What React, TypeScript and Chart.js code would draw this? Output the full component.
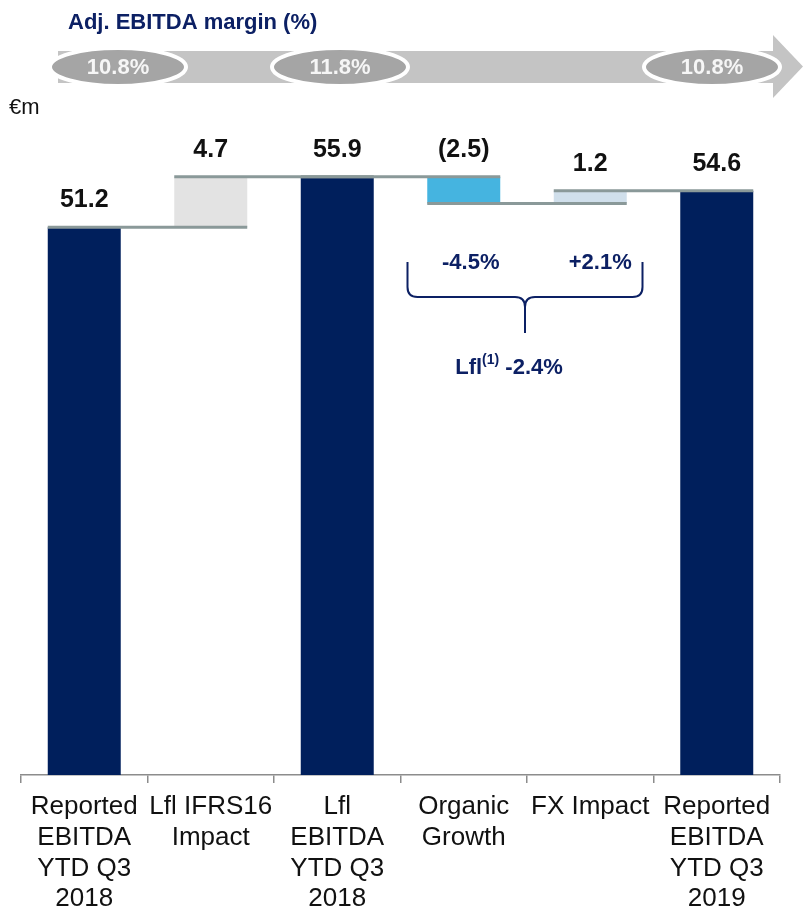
import React, { useEffect, useRef } from "react";
import { Chart, registerables } from "chart.js";

Chart.register(...registerables);

// Bridge categories (multi-line axis labels)
const categories: string[][] = [
  ["Reported", "EBITDA", "YTD Q3", "2018"],
  ["Lfl IFRS16", "Impact"],
  ["Lfl", "EBITDA", "YTD Q3", "2018"],
  ["Organic", "Growth"],
  ["FX Impact"],
  ["Reported", "EBITDA", "YTD Q3", "2019"],
];

// €m: totals are absolute levels, deltas are changes on the running total
const stepValues: number[] = [51.2, 4.7, 55.9, -2.5, 1.2, 54.6];
const stepKinds: ("total" | "delta")[] = ["total", "delta", "total", "delta", "delta", "total"];

// Adj. EBITDA margin shown in the header arrow
const marginLabels: string[] = ["10.8%", "11.8%", "10.8%"];

// Growth rates for the organic / FX steps and the like-for-like total
const growthLabels: string[] = ["-4.5%", "+2.1%"];
const lflGrowth = "-2.4%";

const TEXT_NAVY = "#0c2064";
const CONNECTOR = "#8a9999";
const FONT = "'Liberation Sans', Arial, Helvetica, sans-serif";

const barColors = ["#001f5c", "#e3e3e3", "#001f5c", "#45b4e0", "#d0dfeb", "#001f5c"];

function buildRanges(): [number, number][] {
  const out: [number, number][] = [];
  let running = 0;
  stepValues.forEach((v, i) => {
    if (stepKinds[i] === "total") {
      out.push([0, v]);
      running = v;
    } else {
      const next = +(running + v).toFixed(2);
      out.push([Math.min(running, next), Math.max(running, next)]);
      running = next;
    }
  });
  return out;
}

function formatValue(v: number): string {
  return v < 0 ? `(${Math.abs(v).toFixed(1)})` : v.toFixed(1);
}

const overlayPlugin = {
  id: "bridgeOverlay",
  afterDatasetsDraw(chart: any) {
    const ctx: CanvasRenderingContext2D = chart.ctx;
    const x = chart.scales.x;
    const y = chart.scales.y;
    const meta = chart.getDatasetMeta(0);
    const ranges = buildRanges();

    // running level after each step
    const levels: number[] = [];
    let running = 0;
    stepValues.forEach((v, i) => {
      running = stepKinds[i] === "total" ? v : +(running + v).toFixed(2);
      levels.push(running);
    });

    ctx.save();
    // connector lines between consecutive bars
    ctx.strokeStyle = CONNECTOR;
    ctx.lineWidth = 3;
    for (let i = 0; i < meta.data.length - 1; i++) {
      const a = meta.data[i];
      const b = meta.data[i + 1];
      const py = y.getPixelForValue(levels[i]);
      ctx.beginPath();
      ctx.moveTo(a.x - a.width / 2, py);
      ctx.lineTo(b.x + b.width / 2, py);
      ctx.stroke();
    }

    // value labels above each bar
    ctx.fillStyle = "#111";
    ctx.font = `bold 25px ${FONT}`;
    ctx.textAlign = "center";
    ctx.textBaseline = "middle";
    meta.data.forEach((bar: any, i: number) => {
      const top = y.getPixelForValue(ranges[i][1]);
      ctx.fillText(formatValue(stepValues[i]), bar.x, top - 27);
    });

    // growth annotations with brace
    const catW = x.getPixelForValue(1) - x.getPixelForValue(0);
    const c3 = x.getPixelForValue(3);
    const c4 = x.getPixelForValue(4);
    const L = c3 - catW / 2 + 7;
    const R = c4 + catW / 2 - 11;
    const C = (L + R) / 2;
    const top = 262;
    const H = 297;
    const bottom = 333;
    const r = 10;
    ctx.strokeStyle = TEXT_NAVY;
    ctx.lineWidth = 2;
    ctx.beginPath();
    ctx.moveTo(L, top);
    ctx.lineTo(L, H - r);
    ctx.quadraticCurveTo(L, H, L + r, H);
    ctx.lineTo(C - r, H);
    ctx.quadraticCurveTo(C, H, C, H + r);
    ctx.lineTo(C, bottom);
    ctx.moveTo(R, top);
    ctx.lineTo(R, H - r);
    ctx.quadraticCurveTo(R, H, R - r, H);
    ctx.lineTo(C + r, H);
    ctx.quadraticCurveTo(C, H, C, H + r);
    ctx.stroke();

    ctx.fillStyle = TEXT_NAVY;
    ctx.font = `bold 22px ${FONT}`;
    ctx.fillText(growthLabels[0], c3 + 7, 263);
    ctx.fillText(growthLabels[1], c4 + 10, 263);

    // "Lfl(1) -2.4%" with superscript
    const base = "Lfl";
    const sup = "(1)";
    const rest = " " + lflGrowth;
    ctx.font = `bold 22px ${FONT}`;
    const wBase = ctx.measureText(base).width;
    const wRest = ctx.measureText(rest).width;
    ctx.font = `bold 14px ${FONT}`;
    const wSup = ctx.measureText(sup).width;
    let sx = C - (wBase + wSup + wRest) / 2 - 16;
    ctx.textAlign = "left";
    ctx.font = `bold 22px ${FONT}`;
    ctx.fillText(base, sx, 368);
    sx += wBase;
    ctx.font = `bold 14px ${FONT}`;
    ctx.fillText(sup, sx, 360);
    sx += wSup;
    ctx.font = `bold 22px ${FONT}`;
    ctx.fillText(rest, sx, 368);

    // header: margin arrow
    ctx.fillStyle = "#c4c4c4";
    ctx.fillRect(58, 51, 773 - 58, 32);
    ctx.beginPath();
    ctx.moveTo(773, 35);
    ctx.lineTo(803, 66.5);
    ctx.lineTo(773, 98);
    ctx.closePath();
    ctx.fill();

    const centers = [118, 340, 712];
    centers.forEach((cx, i) => {
      ctx.beginPath();
      ctx.ellipse(cx, 67, 68, 19, 0, 0, Math.PI * 2);
      ctx.fillStyle = "#a5a5a5";
      ctx.fill();
      ctx.strokeStyle = "#ffffff";
      ctx.lineWidth = 4;
      ctx.stroke();
      ctx.fillStyle = "#f6f6f6";
      ctx.font = `bold 22px ${FONT}`;
      ctx.textAlign = "center";
      ctx.textBaseline = "middle";
      ctx.fillText(marginLabels[i], cx, 68);
    });

    ctx.fillStyle = TEXT_NAVY;
    ctx.font = `bold 22px ${FONT}`;
    ctx.textAlign = "left";
    ctx.fillText("Adj. EBITDA margin (%)", 68, 23);

    ctx.fillStyle = "#111";
    ctx.font = `22px ${FONT}`;
    ctx.fillText("€m", 9, 108);
    ctx.restore();
  },
};

export default function App() {
  const ref = useRef<HTMLCanvasElement | null>(null);

  useEffect(() => {
    if (!ref.current) return;
    const chart = new Chart(ref.current, {
      type: "bar",
      data: {
        labels: categories,
        datasets: [
          {
            data: buildRanges() as any,
            backgroundColor: barColors,
            borderWidth: 0,
            categoryPercentage: 1,
            barPercentage: 0.577,
          },
        ],
      },
      options: {
        responsive: false,
        animation: false,
        layout: { padding: { top: 26, left: 21, right: 23, bottom: 0 } },
        plugins: {
          legend: { display: false },
          tooltip: { enabled: false },
        },
        scales: {
          y: { display: false, min: 0, max: 70 },
          x: {
            grid: {
              offset: true,
              drawOnChartArea: false,
              drawTicks: true,
              tickLength: 8,
              color: "#8c8c8c",
              lineWidth: 1.5,
            },
            border: { display: true, color: "#8c8c8c", width: 1.5 },
            ticks: {
              color: "#111",
              font: { family: FONT, size: 26, lineHeight: 1.175 },
              padding: 9,
              maxRotation: 0,
              autoSkip: false,
            },
            afterFit: (scale: any) => {
              scale.height = 135;
            },
          },
        },
      },
      plugins: [overlayPlugin],
    });
    return () => chart.destroy();
  }, []);

  return (
    <div style={{ position: "absolute", left: 0, top: 0, width: 803, height: 910, background: "#fff" }}>
      <canvas ref={ref} width={803} height={910} style={{ display: "block" }} />
    </div>
  );
}
